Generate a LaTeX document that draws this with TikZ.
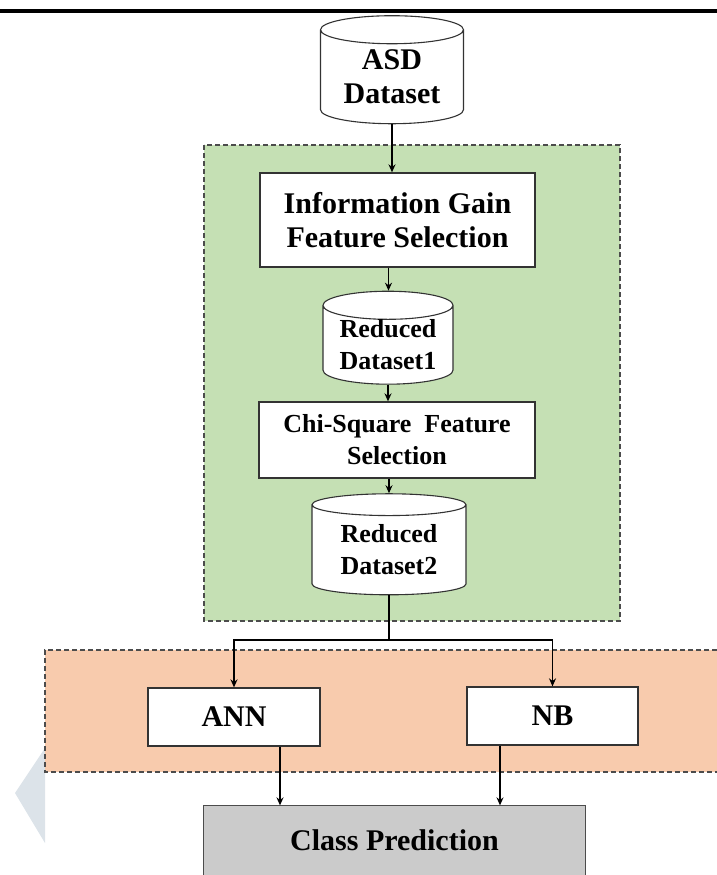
\documentclass[tikz,border=0pt]{standalone}
\usepackage{fontspec}
\setmainfont{Liberation Serif}
\usetikzlibrary{arrows.meta,shapes.geometric}
\definecolor{grpgreen}{HTML}{C5E0B4}
\definecolor{grporange}{HTML}{F8CBAD}
\definecolor{clsgray}{HTML}{CBCBCB}
\definecolor{wmark}{HTML}{DCE3E9}
\tikzstyle{bx} = [rectangle, draw=black!80, fill=white, line width=1.3pt,
    inner sep=0pt, align=center, font=\fontsize{30}{34}\selectfont\bfseries]
\tikzstyle{db} = [cylinder, shape border rotate=90, draw=black!80, fill=white,
    line width=1.1pt, inner sep=0pt, align=center, font=\fontsize{30}{34}\selectfont\bfseries]
\tikzstyle{grp} = [draw=black!70, line width=1.4pt, dash pattern=on 5pt off 3pt]

\begin{document}
\begin{tikzpicture}[x=1pt,y=-1pt,->,>={Stealth[length=8pt,width=7pt]},line width=1.3pt]
  \useasboundingbox (0,0) rectangle (717,875);
  % page rule and watermark
  \draw[-,line width=4pt] (0,11) -- (717,11);
  \fill[wmark] (45,748) -- (15,793) -- (45,843) -- cycle;
  % groups
  \draw[-,grp,fill=grpgreen] (204,145) rectangle (620,621);
  \fill[grporange] (45,650) rectangle (717,772);
  \draw[-,grp] (717,650) -- (45,650) -- (45,772) -- (717,772);

  \node[db,minimum width=143pt,minimum height=108pt,aspect=0.29] (asd) at (392,77) {ASD\\Dataset};
  \node[bx,minimum width=275pt,minimum height=94pt] (igfs) at (397.5,220) {Information Gain\\Feature Selection};
  \node[db,minimum width=130pt,minimum height=92pt,aspect=0.29,
        font=\fontsize{26}{32}\selectfont\bfseries] (rd1) at (388,345) {Reduced\\Dataset1};
  \node[bx,minimum width=276pt,minimum height=76pt,
        font=\fontsize{26}{32}\selectfont\bfseries] (chisq) at (397,440) {Chi-Square~ Feature\\Selection};
  \node[db,minimum width=154pt,minimum height=101pt,aspect=0.225,
        font=\fontsize{26}{32}\selectfont\bfseries] (rd2) at (389,550) {Reduced\\Dataset2};
  \node[bx,minimum width=172pt,minimum height=58pt] (ann) at (234,717) {ANN};
  \node[bx,minimum width=171pt,minimum height=58pt] (nb) at (552.5,716) {NB};
  \node[bx,draw=none,fill=clsgray,minimum width=381pt,minimum height=69pt] (cls) at (394.5,840.5) {Class Prediction};
  \draw[-,draw=black!70] (cls.south west) -- (cls.north west) -- (cls.north east) -- (cls.south east);

  \coordinate (split) at (389,640);
  \draw (asd.south) -- (asd.south |- igfs.north);
  \draw ([xshift=-9pt]igfs.south) -- ([xshift=-9pt]igfs.south |- rd1.north);
  \draw (rd1.south) -- (rd1.south |- chisq.north);
  \draw ([xshift=-8pt]chisq.south) -- ([xshift=-8pt]chisq.south |- rd2.north);
  \draw[-,line width=1.8pt] (rd2.south) -- (split);
  \draw[line width=1.8pt] (split) -| (ann.north);
  \draw[line width=1.8pt] (split) -| (nb.north);
  \draw ([xshift=46pt]ann.south) -- ([xshift=46pt]ann.south |- cls.north);
  \draw ([xshift=-52.5pt]nb.south) -- ([xshift=-52.5pt]nb.south |- cls.north);
\end{tikzpicture}
\end{document}
